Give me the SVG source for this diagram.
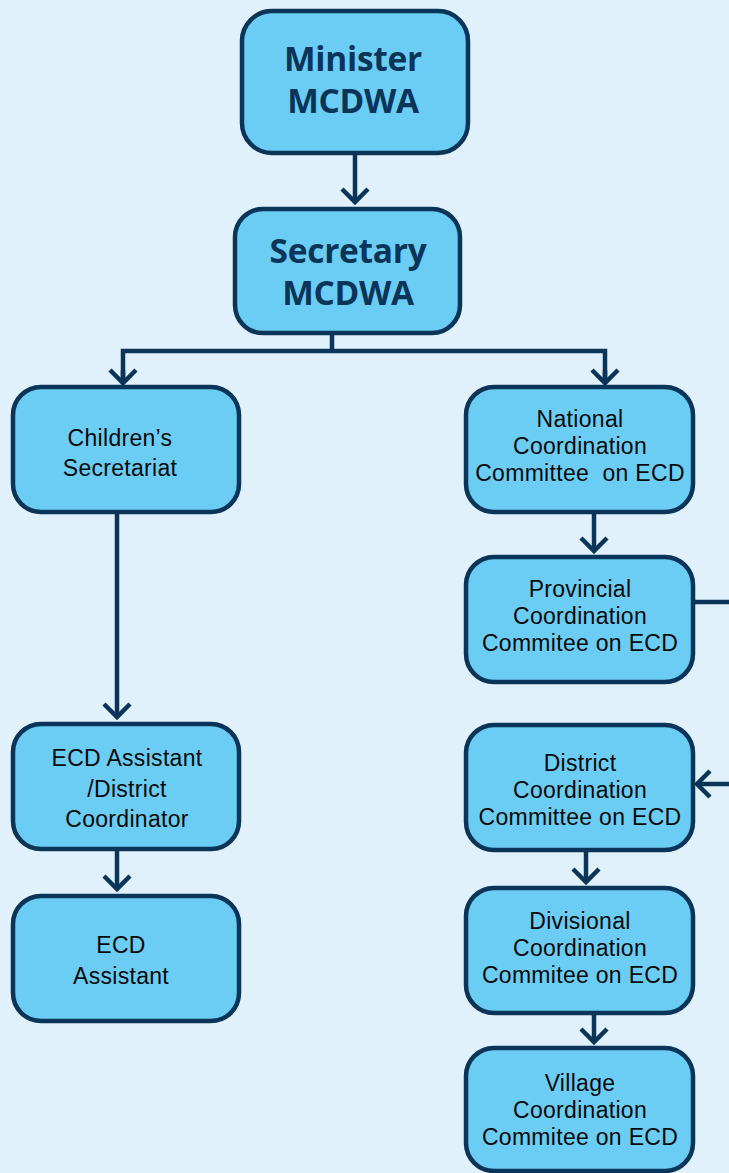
<svg xmlns="http://www.w3.org/2000/svg" width="729" height="1173" viewBox="0 0 729 1173">
<style>
.bg{fill:#E0F1FB}
.box{fill:#6CCDF4;stroke:#0A3558;stroke-width:4.5}
.t{font-family:"Liberation Sans",Arial,sans-serif;font-size:23px;fill:#0a0a0a;text-anchor:middle;letter-spacing:0.3px}
.h{font-family:"Open Sans","Noto Sans",sans-serif;font-size:33.5px;font-weight:bold;fill:#0A3558;text-anchor:middle;letter-spacing:-0.3px}
.c{fill:none;stroke:#0A3558;stroke-width:4.5}
</style>
<defs>
<marker id="ah" markerUnits="userSpaceOnUse" markerWidth="34" markerHeight="34" viewBox="-17 -17 34 34" refX="0" refY="0" orient="auto">
<path d="M-13,-13 L0,0 L-13,13" fill="none" stroke="#0A3558" stroke-width="4.5"/>
</marker>
</defs>
<rect class="bg" x="0" y="0" width="729" height="1173"/>
<g id="connectors">
<path class="c" d="M355,153 V202" marker-end="url(#ah)"/>
<path class="c" d="M332,333 V351"/>
<path class="c" d="M123,383 V351 H605 V383"/>
<path class="c" d="M123,370 V383" marker-end="url(#ah)"/>
<path class="c" d="M605,370 V383" marker-end="url(#ah)"/>
<path class="c" d="M117,512 V717" marker-end="url(#ah)"/>
<path class="c" d="M117,849 V889" marker-end="url(#ah)"/>
<path class="c" d="M594,512 V551" marker-end="url(#ah)"/>
<path class="c" d="M693,602 H740 V784"/>
<path class="c" d="M740,784 H697" marker-end="url(#ah)"/>
<path class="c" d="M586,850 V882" marker-end="url(#ah)"/>
<path class="c" d="M594,1013 V1042" marker-end="url(#ah)"/>
</g>
<g id="minister">
<rect class="box" x="242" y="11" width="226" height="142" rx="30"/>
<text class="h" x="353" y="71">Minister</text>
<text class="h" x="353" y="113">MCDWA</text>
</g>
<g id="secretary">
<rect class="box" x="235" y="209" width="225" height="124" rx="28"/>
<text class="h" x="348" y="263">Secretary</text>
<text class="h" x="348" y="305">MCDWA</text>
</g>
<g id="childrens">
<rect class="box" x="13" y="387" width="226" height="125" rx="28"/>
<text class="t" x="120" y="446">Children’s</text>
<text class="t" x="120" y="476">Secretariat</text>
</g>
<g id="national">
<rect class="box" x="466" y="387" width="227" height="125" rx="28"/>
<text class="t" x="580" y="426.5">National</text>
<text class="t" x="580" y="453.5">Coordination</text>
<text class="t" x="580" y="480.5" xml:space="preserve">Committee  on ECD</text>
</g>
<g id="provincial">
<rect class="box" x="466" y="557" width="227" height="125" rx="28"/>
<text class="t" x="580" y="596.5">Provincial</text>
<text class="t" x="580" y="623.5">Coordination</text>
<text class="t" x="580" y="650.5">Commitee on ECD</text>
</g>
<g id="ecd-district">
<rect class="box" x="13" y="724" width="226" height="125" rx="28"/>
<text class="t" x="127" y="766">ECD Assistant</text>
<text class="t" x="127" y="797">/District</text>
<text class="t" x="127" y="827">Coordinator</text>
</g>
<g id="ecd-assistant">
<rect class="box" x="13" y="896" width="226" height="125" rx="28"/>
<text class="t" x="121" y="953">ECD</text>
<text class="t" x="121" y="984">Assistant</text>
</g>
<g id="district">
<rect class="box" x="466" y="725" width="227" height="125" rx="28"/>
<text class="t" x="580" y="770.5">District</text>
<text class="t" x="580" y="797.5">Coordination</text>
<text class="t" x="580" y="824.5">Committee on ECD</text>
</g>
<g id="divisional">
<rect class="box" x="466" y="888" width="227" height="125" rx="28"/>
<text class="t" x="580" y="928.5">Divisional</text>
<text class="t" x="580" y="955.5">Coordination</text>
<text class="t" x="580" y="982.5">Commitee on ECD</text>
</g>
<g id="village">
<rect class="box" x="466" y="1048" width="227" height="123" rx="28"/>
<text class="t" x="580" y="1090.5">Village</text>
<text class="t" x="580" y="1117.5">Coordination</text>
<text class="t" x="580" y="1144.5">Commitee on ECD</text>
</g>
</svg>
